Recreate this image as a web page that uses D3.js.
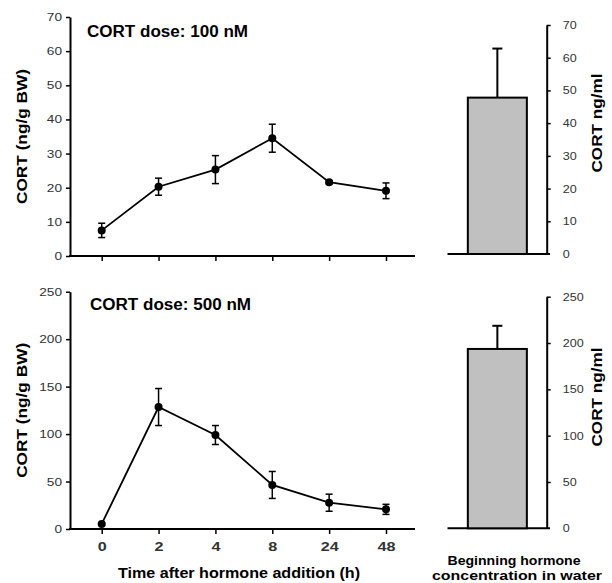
<!DOCTYPE html>
<html>
<head>
<meta charset="utf-8">
<script src="https://cdn.jsdelivr.net/npm/d3@7"></script>
<style>
  body{margin:0;background:#fff;}
  svg{display:block;font-family:"Liberation Sans",Arial,sans-serif;}
  .tick text{font-size:11px;fill:#333;}
</style>
</head>
<body>
<div id="chart"></div>
<script>
// time points (h)
const hours=["0","2","4","8","24","48"];
// 100 nM dose: mean and SE
const mean100=[7.5,20.3,25.3,34.5,21.6,19.1];
const err100=[2.1,2.5,4.1,4.1,0.5,2.3];
// 500 nM dose
const mean500=[5.3,128.5,99,46.4,27.7,20.7];
const err500=[1,19.5,10,14.2,9,5.3];
// beginning hormone concentration in water
const waterCats=["water"];
const water100=[47.8], waterErr100=[15];
const water500=[193.6], waterErr500=[25];

const W=612,H=583;
const svg=d3.select("#chart").append("svg").attr("width",W).attr("height",H);

const x=d3.scalePoint().domain(hours).range([101.7,386]);
const xb=d3.scaleBand().domain(waterCats).range([448,546.7]).paddingInner(0).paddingOuter(0.336);

// stretch a label to a given width (the source figure is slightly wide)
function boldText(sel,txt,size,len){
    return sel.text(txt).style("font-size",size+"px").style("font-weight","bold")
        .attr("textLength",len).attr("lengthAdjust","spacingAndGlyphs");
}

function widenTicks(axisG,perChar){
    axisG.selectAll(".tick text").each(function(){
        const t=d3.select(this);
        t.attr("textLength",perChar*t.text().length).attr("lengthAdjust","spacingAndGlyphs");
    });
}

function linePanel(data,errs,ymax,yTop,yBot,title,titleX,titleY,showLabels){
    const y=d3.scaleLinear().domain([0,ymax]).range([yBot,yTop]);
    const g=svg.append("g");
    // y axis
    const ya=g.append("g").attr("transform","translate(70,0)")
        .call(d3.axisLeft(y).ticks(ymax>100?5:7).tickSize(4).tickSizeOuter(0).tickPadding(4));
    ya.select(".domain").attr("stroke-width",2);
    ya.selectAll(".tick line").attr("stroke-width",1.5);
    widenTicks(ya,7.6);
    // x axis
    const xa=g.append("g").attr("transform","translate(0,"+yBot+")")
        .call(d3.axisBottom(x).tickSize(5).tickPadding(8));
    xa.select(".domain").remove();
    xa.selectAll(".tick line").attr("stroke-width",1.5);
    g.append("line").attr("x1",69).attr("x2",415).attr("y1",yBot).attr("y2",yBot)
        .attr("stroke","black").attr("stroke-width",2);
    if(showLabels){
        xa.selectAll(".tick text").style("font-size","13px").style("font-weight","bold").attr("fill","#000");
        widenTicks(xa,9);
    } else {
        xa.selectAll(".tick text").remove();
    }
    // line
    const pts=hours.map((h,i)=>({h:h,v:data[i],e:errs[i]}));
    g.append("path").datum(pts)
        .attr("d",d3.line().x(d=>x(d.h)).y(d=>y(d.v)))
        .attr("fill","none").attr("stroke","black").attr("stroke-width",1.8);
    // error bars
    const eb=g.selectAll("g.err").data(pts).enter().append("g").classed("err",true);
    eb.append("line").attr("x1",d=>x(d.h)).attr("x2",d=>x(d.h))
        .attr("y1",d=>y(d.v-d.e)).attr("y2",d=>y(d.v+d.e))
        .attr("stroke","black").attr("stroke-width",1.5);
    [-1,1].forEach(s=>{
        eb.append("line").attr("x1",d=>x(d.h)-3.5).attr("x2",d=>x(d.h)+3.5)
            .attr("y1",d=>y(d.v+s*d.e)).attr("y2",d=>y(d.v+s*d.e))
            .attr("stroke","black").attr("stroke-width",1.5);
    });
    g.selectAll("circle").data(pts).enter().append("circle")
        .attr("cx",d=>x(d.h)).attr("cy",d=>y(d.v)).attr("r",4).attr("fill","black");
    // title
    boldText(g.append("text").attr("x",titleX).attr("y",titleY),title,16,161);
    // y title
    boldText(g.append("text").attr("transform","translate(27,"+((yTop+yBot)/2)+") rotate(-90)")
        .attr("text-anchor","middle"),"CORT (ng/g BW)",15,135);
}

function barPanel(vals,errs,ymax,yTop,yBot,labelY){
    const y=d3.scaleLinear().domain([0,ymax]).range([yBot,yTop]);
    const g=svg.append("g");
    const ya=g.append("g").attr("transform","translate(546.7,0)")
        .call(d3.axisRight(y).ticks(ymax>100?5:7).tickSize(4).tickSizeOuter(0).tickPadding(12));
    ya.select(".domain").attr("stroke-width",2);
    ya.selectAll(".tick line").attr("stroke-width",1.5);
    ya.selectAll(".tick").filter(d=>d===0).select("line").remove();
    widenTicks(ya,7);
    g.append("line").attr("x1",447.5).attr("x2",550).attr("y1",yBot).attr("y2",yBot)
        .attr("stroke","black").attr("stroke-width",2);
    waterCats.forEach((c,i)=>{
        const cx=xb(c)+xb.bandwidth()/2;
        g.append("line").attr("x1",cx).attr("x2",cx).attr("y1",y(vals[i])).attr("y2",y(vals[i]+errs[i]))
            .attr("stroke","black").attr("stroke-width",2);
        g.append("line").attr("x1",cx-5).attr("x2",cx+5).attr("y1",y(vals[i]+errs[i])).attr("y2",y(vals[i]+errs[i]))
            .attr("stroke","black").attr("stroke-width",2);
        g.append("rect").attr("x",xb(c)).attr("width",xb.bandwidth())
            .attr("y",y(vals[i])).attr("height",y(0)-y(vals[i]))
            .attr("fill","#c0c0c0").attr("stroke","black").attr("stroke-width",2);
    });
    boldText(g.append("text").attr("transform","translate(602,"+labelY+") rotate(-90)")
        .attr("text-anchor","middle"),"CORT ng/ml",15,99);
}

linePanel(mean100,err100,70,17,256,"CORT dose: 100 nM",87,37,false);
linePanel(mean500,err500,250,291.7,529,"CORT dose: 500 nM",90,310,true);
barPanel(water100,waterErr100,70,25,254,123);
barPanel(water500,waterErr500,250,296.7,528.3,397);

boldText(svg.append("text").attr("x",239).attr("y",578).attr("text-anchor","middle"),
    "Time after hormone addition (h)",15,242);
boldText(svg.append("text").attr("x",514).attr("y",565).attr("text-anchor","middle"),
    "Beginning hormone",13,133);
boldText(svg.append("text").attr("x",517).attr("y",580).attr("text-anchor","middle"),
    "concentration in water",13,170);
</script>
</body>
</html>
